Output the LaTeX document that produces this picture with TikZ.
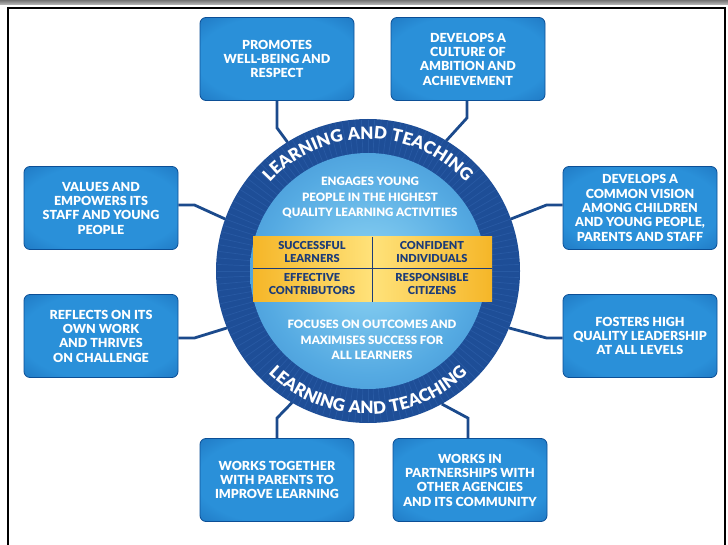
\documentclass[tikz,border=0pt]{standalone}
\usepackage{fontspec}
\setmainfont{Lato}[BoldFont={Lato Black}]
\newfontfamily\ringfont{Lato Black}[LetterSpace=4]
\usetikzlibrary{decorations.text,calc}

\definecolor{ringblue}{HTML}{1E4E97}
\definecolor{stripeblue}{HTML}{2F62AC}
\definecolor{discin}{HTML}{8FD5F4}
\definecolor{discmid}{HTML}{55AAE2}
\definecolor{discout}{HTML}{2A72BE}
\definecolor{boxin}{HTML}{2A90D9}
\definecolor{boxout}{HTML}{1159A6}
\definecolor{boxedge}{HTML}{0C4F96}
\definecolor{linkblue}{HTML}{1B4A8C}
\definecolor{bandin}{HTML}{FFE27A}
\definecolor{bandout}{HTML}{F5B628}
\definecolor{navy}{HTML}{1C3C78}

\pgfdeclareradialshading{boxshade}{\pgfpointorigin}{color(0bp)=(boxin); color(26bp)=(boxin); color(50bp)=(boxout); color(75bp)=(boxout)}
\pgfdeclareradialshading{discshade}{\pgfpointorigin}{color(0bp)=(discin); color(22bp)=(discmid); color(50bp)=(discout)}

\tikzset{
  goal/.style={shade, shading=boxshade, draw=boxedge, line width=0.8pt, rounded corners=6pt,
    minimum width=154pt, minimum height=83pt, inner sep=0pt, text=white, align=center,
    font=\fontsize{12.5}{14.3}\selectfont\bfseries},
  hubtext/.style={text=white, align=center, font=\fontsize{11.5}{15.5}\selectfont\bfseries},
  bandtext/.style={text=navy, align=center, font=\fontsize{11}{13.5}\selectfont\bfseries},
  link/.style={linkblue, line width=2.8pt}
}

\begin{document}
\begin{tikzpicture}[x=1pt,y=1pt]

    % Dimensions
    \def\hubR{152}     % outer radius of the ring
    \def\discR{118}    % radius of the light inner disc

    \useasboundingbox (0,0) rectangle (728,-545);

    % Page frame
    \shade[top color=black!55, bottom color=black!25] (0,0) rectangle (728,-5);
    \draw[line width=1.6pt] (8,-545) -- (8,-8) -- (725,-8) -- (725,-545);

    % The eight outer boxes
    \node[goal] (wellbeing) at (277,-59) {PROMOTES\\WELL-BEING AND\\RESPECT};
    \node[goal] (ambition) at (468,-59) {DEVELOPS A\\CULTURE OF\\AMBITION AND\\ACHIEVEMENT};
    \node[goal] (staff) at (101,-208) {VALUES AND\\EMPOWERS ITS\\STAFF AND YOUNG\\PEOPLE};
    \node[goal] (reflect) at (101,-336) {REFLECTS ON ITS\\OWN WORK\\AND THRIVES\\ON CHALLENGE};
    \node[goal] (vision) at (640,-208) {DEVELOPS A\\COMMON VISION\\AMONG CHILDREN\\AND YOUNG PEOPLE,\\PARENTS AND STAFF};
    \node[goal] (leadership) at (640,-336) {FOSTERS HIGH\\QUALITY LEADERSHIP\\AT ALL LEVELS};
    \node[goal] (parents) at (277,-480) {WORKS TOGETHER\\WITH PARENTS TO\\IMPROVE LEARNING};
    \node[goal] (partners) at (470,-480) {WORKS IN\\PARTNERSHIPS WITH\\OTHER AGENCIES\\AND ITS COMMUNITY};

    % Dark ring of the hub
    \node[circle, fill=ringblue, minimum size=2*\hubR pt, inner sep=0pt, outer sep=0pt] (hub) at (368,-271) {};
    \foreach \a in {0,2.5,...,357.5} {
        \draw[stripeblue, line width=0.7pt, opacity=0.6] ($(hub)+(\a:\discR)$) -- ($(hub)+(\a:\hubR-1)$);
    }

    % Light inner disc
    \shade[shading=discshade] (hub) circle (\discR);

    % Connectors from the boxes to the hub
    \draw[link] (wellbeing.south) -- ++(0,-27) -- (hub.122);
    \draw[link] ([xshift=-1pt]ambition.south) -- ++(0,-17) -- (hub.59);
    \draw[link] ([yshift=3pt]staff.east) -- ++(16,0) -- (hub.160);
    \draw[link] ([yshift=-2pt]reflect.east) -- ++(16,0) -- (hub.202);
    \draw[link] ([yshift=3pt]vision.west) -- ++(-16,0) -- (hub.20);
    \draw[link] ([yshift=-2pt]leadership.west) -- ++(-16,0) -- (hub.338);
    \draw[link] (parents.north) -- ++(0,20) -- (hub.240);
    \draw[link] ([xshift=-2pt]partners.north) -- ++(0,20) -- (hub.299);

    % Ring captions
    \path[decorate, decoration={text along path, text align=center, text color=white,
        text={|\fontsize{17}{17}\ringfont|LEARNING AND TEACHING}}]
        ($(hub)+(160:132)$) arc[start angle=160, end angle=20, radius=132];
    \path[decorate, decoration={text along path, text align=center, text color=white,
        text={|\fontsize{17}{17}\ringfont|LEARNING AND TEACHING}}]
        ($(hub)+(205:143)$) arc[start angle=205, end angle=335, radius=143];

    % Yellow band with the four capacities
    \shade[left color=bandout, right color=bandout, middle color=bandin] (253,-237) rectangle (492,-302);
    \draw[navy, line width=0.8pt] (253,-268) -- (492,-268);
    \draw[navy, line width=0.8pt] (372,-237) -- (372,-302);
    \node[bandtext] (learners) at (312,-252) {SUCCESSFUL\\LEARNERS};
    \node[bandtext] (individuals) at (432,-252) {CONFIDENT\\INDIVIDUALS};
    \node[bandtext] (contributors) at (312,-284) {EFFECTIVE\\CONTRIBUTORS};
    \node[bandtext] (citizens) at (432,-284) {RESPONSIBLE\\CITIZENS};

    % Texts inside the disc
    \node[hubtext] (engages) at (370,-198) {ENGAGES YOUNG\\PEOPLE IN THE HIGHEST\\QUALITY LEARNING ACTIVITIES};
    \node[hubtext] (focuses) at (372,-340) {FOCUSES ON OUTCOMES AND\\MAXIMISES SUCCESS FOR\\ALL LEARNERS};

\end{tikzpicture}
\end{document}
